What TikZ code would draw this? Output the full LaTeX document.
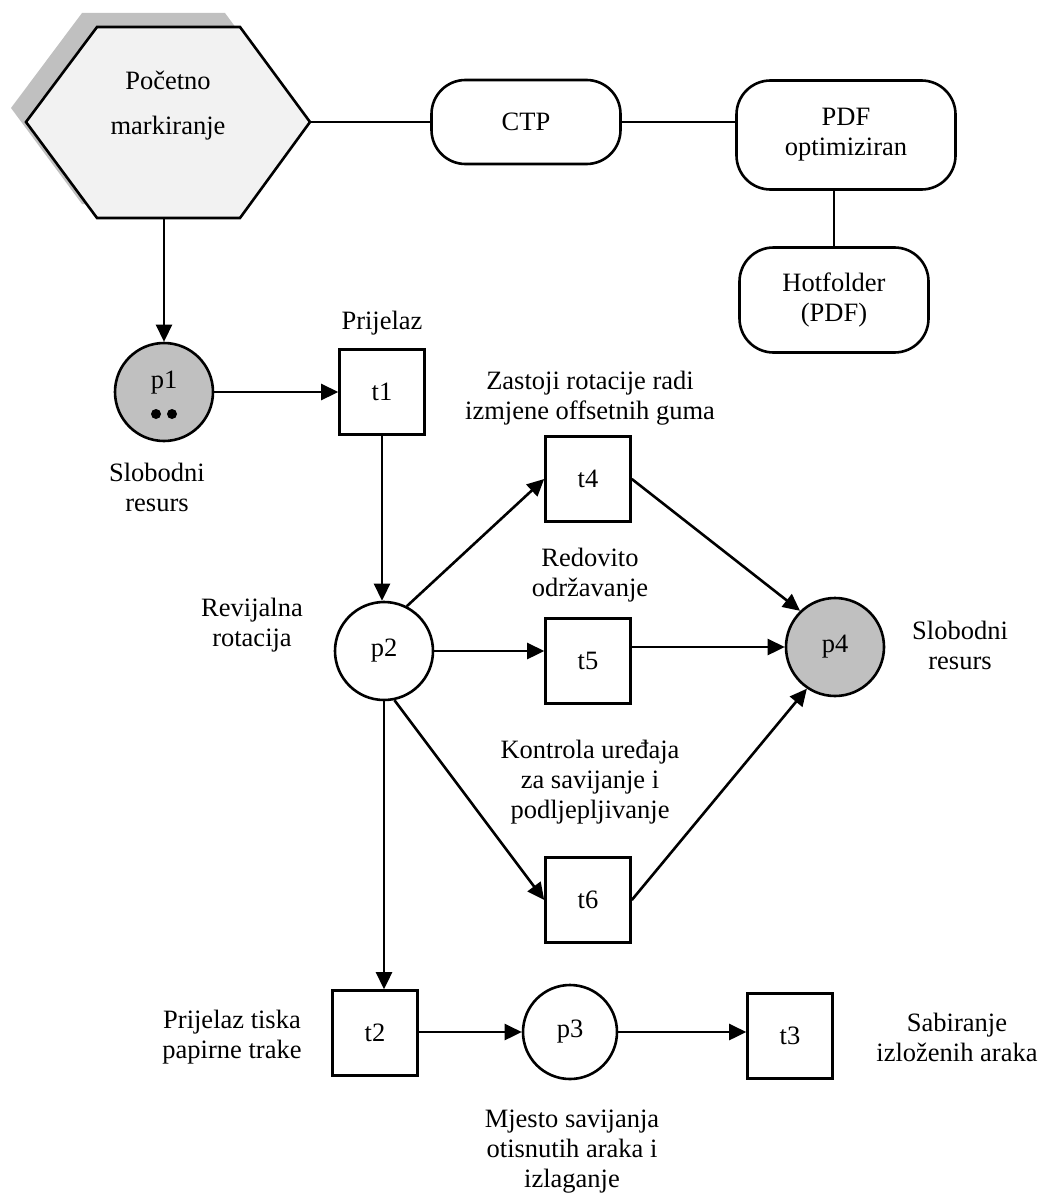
\documentclass[tikz,border=0pt]{standalone}
\usepackage{fontspec}
\setmainfont{Liberation Serif}
\usepackage{tikz}
\usetikzlibrary{arrows.meta, positioning, calc}
\definecolor{sivaResurs}{RGB}{192,192,192}
\definecolor{sivaPozadina}{RGB}{242,242,242}

\begin{document}
\begin{tikzpicture}[
  x=0.5pt, y=-0.5pt,
  font=\fontsize{13.25}{15}\selectfont,
  mjesto/.style={circle, draw, line width=1.3pt, minimum size=49pt, inner sep=0pt, fill=white},
  mjestoS/.style={mjesto, fill=sivaResurs},
  prijelaz/.style={draw, line width=1.3pt, minimum width=42.5pt, minimum height=42.5pt, inner sep=0pt},
  okvir/.style={draw, line width=1.3pt, rounded corners=17pt, align=center, inner sep=0pt},
  opis/.style={align=center},
  veza/.style={line width=1.3pt},
  luk/.style={veza, -{Triangle[length=8.5pt, width=8pt]}},
]
  \useasboundingbox (0,0) rectangle (1041,1193);

  % pocetno markiranje
  \fill[sivaResurs] (82,13) -- (225,13) -- (295,108) -- (225,204) -- (82,204) -- (11,108) -- cycle;
  \draw[veza, fill=sivaPozadina] (97,27) -- (240,27) -- (310,122) -- (240,218) -- (97,218) -- (26,122) -- cycle;
  \node[opis] (poc) at (168,106) {Početno\\[7.5pt]markiranje};
  \coordinate (pocJ) at (164,218);
  \coordinate (pocI) at (310,122);

  \node[okvir, minimum width=94.5pt, minimum height=42pt] at (526,122) (ctp) {CTP};
  \node[okvir, minimum width=109.5pt, minimum height=54.5pt] at (846,135) (pdf) {PDF\\optimiziran};
  \node[okvir, minimum width=94.5pt, minimum height=52.5pt] at (834,300) (hot) {Hotfolder\\(PDF)};

  % mjesta i prijelazi
  \node[mjestoS] at (164,392) (p1) {\raisebox{12pt}{p1}};
  \node[prijelaz] at (382,392) (t1) {t1};
  \node[mjesto] at (384,651) (p2) {p2};
  \node[prijelaz] at (588,479) (t4) {t4};
  \node[prijelaz] at (588,661) (t5) {t5};
  \node[prijelaz] at (588,900) (t6) {t6};
  \node[mjestoS] at (835,647) (p4) {p4};
  \node[prijelaz] at (375,1033) (t2) {t2};
  \node[mjesto, minimum size=47pt] at (570,1032) (p3) {p3};
  \node[prijelaz] at (790,1036) (t3) {t3};

  \fill ([shift={(-4pt,-11pt)}]p1.center) circle (2.5pt);
  \fill ([shift={(4pt,-11pt)}]p1.center) circle (2.5pt);

  % opisi
  \node[opis] at (382,323) (lPrij) {Prijelaz};
  \node[opis] at (157,487) (lSlob) {Slobodni\\resurs};
  \node[opis] at (252,625) (lRev) {Revijalna\\rotacija};
  \node[opis] at (590,398) (lZast) {Zastoji rotacije radi\\izmjene offsetnih guma};
  \node[opis] at (590,575) (lRed) {Redovito\\održavanje};
  \node[opis] at (590,782) (lKon) {Kontrola uređaja\\za savijanje i\\podljepljivanje};
  \node[opis] at (960,645) (lSlobD) {Slobodni\\resurs};
  \node[opis] at (232,1037) (lTisk) {Prijelaz tiska\\papirne trake};
  \node[opis] at (572,1152) (lMje) {Mjesto savijanja\\otisnutih araka i\\izlaganje};
  \node[opis] at (957,1037) (lSab) {Sabiranje\\izloženih araka};

  % veze
  \draw[veza] (pocI) -- (ctp.west);
  \draw[veza] (ctp.east) -- (ctp.east -| pdf.west);
  \draw[veza] (hot.north) -- (hot.north |- pdf.south);
  \draw[luk] (pocJ) -- (p1.north);
  \draw[luk] (p1) -- (t1);
  \draw[luk] (t1.south) -- (t1.south |- p2.north);
  \draw[luk] (p2.63) -- (t4.west);
  \draw[luk] (p2.east) -- (p2.east -| t5.west);
  \draw[luk] (t5.east |- p4.west) -- (p4.west);
  \draw[luk] (t4.east) -- (p4.134);
  \draw[luk] (p2.-78) -- (t6.west);
  \draw[luk] (t6.east) -- (p4.-124);
  \draw[luk] (p2.south) -- (p2.south |- t2.north);
  \draw[luk] (t2.east |- p3.west) -- (p3.west);
  \draw[luk] (p3.east) -- (p3.east -| t3.west);
\end{tikzpicture}
\end{document}
